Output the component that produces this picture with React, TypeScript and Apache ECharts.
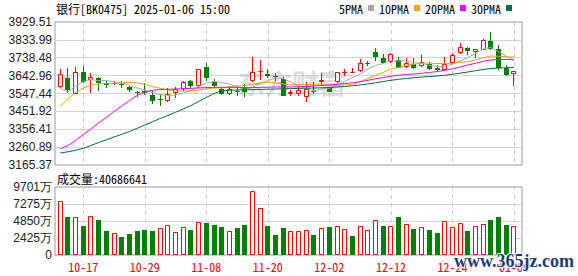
import React, { useEffect, useRef } from 'react';
import * as echarts from 'echarts';

const dates = ['10-14', '10-15', '10-16', '10-17', '10-18', '10-21', '10-22', '10-23', '10-24', '10-25', '10-28', '10-29', '10-30', '10-31', '11-01', '11-04', '11-05', '11-06', '11-07', '11-08', '11-11', '11-12', '11-13', '11-14', '11-15', '11-18', '11-19', '11-20', '11-21', '11-22', '11-25', '11-26', '11-27', '11-28', '11-29', '12-02', '12-03', '12-04', '12-05', '12-06', '12-09', '12-10', '12-11', '12-12', '12-13', '12-16', '12-17', '12-18', '12-19', '12-20', '12-23', '12-24', '12-25', '12-26', '12-27', '12-30', '12-31', '01-02', '01-03', '01-06'];
const labelIdx = [3, 11, 19, 27, 35, 43, 51, 59];

const opens = [3580.57, 3631.87, 3544.77, 3660.73, 3619.58, 3628.67, 3600.88, 3600.88, 3598.21, 3583.78, 3557.06, 3558.13, 3539.43, 3515.38, 3508.97, 3548.51, 3568.82, 3615.84, 3584.85, 3690.65, 3610.50, 3569.89, 3543.17, 3560.80, 3575.23, 3614.24, 3659.66, 3651.64, 3642.56, 3623.32, 3544.77, 3543.17, 3528.74, 3558.13, 3608.89, 3575.23, 3610.50, 3662.33, 3661.26, 3669.28, 3710.42, 3770.81, 3735.54, 3717.37, 3726.45, 3687.45, 3703.48, 3696.00, 3703.48, 3682.10, 3673.02, 3712.03, 3762.26, 3788.97, 3770.81, 3779.89, 3827.98, 3785.23, 3685.31, 3650.04];
const closes = [3651.64, 3566.15, 3663.93, 3607.29, 3635.61, 3601.95, 3592.86, 3605.15, 3592.86, 3566.15, 3551.72, 3550.12, 3507.37, 3512.71, 3544.77, 3569.89, 3610.50, 3587.52, 3676.76, 3627.60, 3587.52, 3544.77, 3569.89, 3563.47, 3553.86, 3663.93, 3667.67, 3642.56, 3637.22, 3534.08, 3553.86, 3566.15, 3568.82, 3559.73, 3619.58, 3557.06, 3663.93, 3665.00, 3663.40, 3708.82, 3713.09, 3744.09, 3712.03, 3756.91, 3685.31, 3712.03, 3685.31, 3714.16, 3678.36, 3673.02, 3703.48, 3753.17, 3794.32, 3774.55, 3785.23, 3833.33, 3785.23, 3682.10, 3646.30, 3669.28];
const lows = [3579.50, 3551.72, 3543.50, 3601.95, 3548.51, 3562.41, 3576.83, 3592.86, 3576.83, 3555.46, 3528.74, 3539.43, 3491.34, 3480.65, 3503.63, 3523.40, 3560.80, 3576.83, 3578.44, 3614.24, 3575.23, 3539.43, 3539.43, 3534.08, 3528.74, 3610.50, 3616.91, 3628.67, 3614.24, 3533.00, 3535.69, 3534.08, 3502.02, 3547.44, 3592.86, 3555.46, 3603.55, 3640.96, 3655.38, 3663.93, 3696.00, 3721.11, 3708.82, 3708.82, 3684.00, 3685.31, 3676.76, 3690.65, 3673.02, 3667.67, 3672.00, 3708.82, 3758.52, 3753.17, 3738.74, 3779.00, 3779.89, 3673.02, 3642.56, 3589.12];
const highs = [3676.76, 3682.10, 3690.65, 3694.39, 3656.99, 3637.22, 3615.84, 3614.24, 3614.24, 3590.19, 3563.47, 3600.88, 3560.80, 3544.77, 3576.83, 3583.78, 3614.24, 3622.25, 3678.36, 3708.82, 3623.32, 3583.78, 3587.52, 3587.52, 3598.21, 3744.09, 3726.45, 3676.76, 3655.38, 3637.22, 3566.15, 3582.18, 3608.89, 3608.89, 3656.99, 3582.18, 3665.00, 3676.76, 3682.10, 3730.19, 3721.11, 3792.18, 3756.91, 3762.26, 3744.09, 3735.54, 3735.54, 3753.17, 3717.37, 3699.74, 3744.09, 3763.86, 3815.69, 3795.92, 3786.00, 3838.67, 3874.47, 3806.61, 3699.74, 3670.00];

// volume in 万 (10k shares)
const volumes = [7704, 5468, 5373, 4137, 5564, 4993, 3424, 3091, 2615, 2996, 3424, 3567, 3424, 3852, 4232, 3281, 3995, 3567, 4660, 4565, 4280, 3995, 3376, 3852, 4280, 9130, 6705, 4137, 2853, 3852, 3376, 3376, 3519, 2853, 3852, 3995, 4090, 3662, 2711, 4090, 3567, 4946, 4137, 4137, 5421, 4422, 3709, 3995, 3567, 3139, 4850, 3995, 4565, 3424, 4137, 4422, 4993, 5421, 4280, 4068.66];
const lastVolume = '40686641';

const ma5 = [3576.83, 3555.46, 3587.52, 3611.57, 3622.25, 3615.84, 3617.98, 3608.89, 3603.55, 3590.19, 3576.83, 3566.15, 3552.79, 3542.10, 3536.76, 3539.43, 3550.12, 3563.47, 3584.85, 3603.55, 3611.57, 3606.22, 3598.21, 3582.18, 3568.82, 3579.50, 3600.88, 3616.91, 3630.27, 3627.60, 3608.89, 3587.52, 3574.16, 3560.80, 3571.49, 3575.23, 3592.86, 3611.57, 3632.94, 3651.64, 3678.36, 3697.06, 3707.75, 3723.78, 3721.11, 3721.11, 3710.42, 3710.42, 3697.06, 3692.79, 3691.72, 3705.08, 3721.11, 3739.81, 3761.19, 3785.23, 3793.25, 3771.87, 3746.22, 3723.25];
const ma10 = [3477.98, 3518.05, 3552.79, 3576.83, 3591.26, 3598.21, 3600.88, 3601.95, 3603.55, 3607.29, 3603.55, 3596.60, 3584.85, 3575.23, 3566.15, 3561.87, 3560.80, 3560.80, 3566.15, 3571.49, 3576.83, 3576.83, 3582.18, 3587.52, 3590.19, 3596.60, 3602.48, 3607.29, 3605.69, 3598.21, 3592.86, 3593.93, 3595.00, 3595.00, 3598.21, 3591.26, 3591.26, 3592.86, 3595.54, 3611.57, 3627.60, 3644.70, 3659.66, 3678.36, 3686.38, 3699.74, 3704.01, 3708.82, 3710.42, 3707.75, 3706.68, 3707.75, 3714.70, 3717.37, 3726.45, 3738.21, 3747.83, 3746.22, 3743.55, 3742.48];
const ma20 = [3250.87, 3269.58, 3296.29, 3328.36, 3357.75, 3389.81, 3419.20, 3451.26, 3480.65, 3510.04, 3536.76, 3555.46, 3564.54, 3568.82, 3569.89, 3571.49, 3573.09, 3575.23, 3576.83, 3578.97, 3580.04, 3580.57, 3580.57, 3580.04, 3578.97, 3578.97, 3580.04, 3581.11, 3582.18, 3582.18, 3582.18, 3583.25, 3584.85, 3587.52, 3590.19, 3592.86, 3596.60, 3600.88, 3604.62, 3609.96, 3617.98, 3625.99, 3632.94, 3639.89, 3645.23, 3648.97, 3651.64, 3655.38, 3659.66, 3665.00, 3671.41, 3679.43, 3689.05, 3699.74, 3708.82, 3719.51, 3726.45, 3729.13, 3729.13, 3728.06];
const ma30 = [3229.50, 3235.91, 3243.93, 3254.61, 3269.58, 3285.61, 3300.03, 3315.00, 3329.42, 3344.39, 3361.49, 3379.12, 3396.22, 3413.85, 3429.88, 3446.98, 3464.62, 3483.32, 3504.69, 3526.07, 3547.44, 3560.80, 3565.07, 3566.15, 3567.22, 3568.28, 3569.35, 3570.42, 3571.49, 3572.56, 3573.63, 3574.70, 3575.77, 3576.83, 3577.90, 3579.50, 3582.18, 3584.85, 3588.59, 3592.86, 3598.21, 3604.62, 3611.57, 3617.98, 3623.32, 3627.60, 3631.34, 3635.61, 3638.28, 3640.96, 3644.70, 3650.04, 3655.92, 3662.33, 3669.28, 3675.69, 3681.03, 3683.71, 3684.77, 3687.45];

const priceTicks = [3165.37, 3260.89, 3356.41, 3451.92, 3547.44, 3642.96, 3738.48, 3833.99, 3929.51];
const volTicks = [0, 2425, 4850, 7275, 9701];

const maNames = ['5PMA', '10PMA', '20PMA', '30PMA'];
const maSeries = [ma5, ma10, ma20, ma30];
const maColors = ['#a8a8a8', '#f2a100', '#ff00ff', '#00703a'];

const RED = '#ff0000';
const GREEN = '#008000';
const MONO = "'Noto Sans Mono CJK SC', 'Liberation Mono', monospace";
const SANS = "'Liberation Sans', Arial, sans-serif";
const X_MIN = -0.68;
const X_MAX = 60.05;

export default function App() {
  const ref = useRef<HTMLDivElement>(null);
  useEffect(() => {
    if (!ref.current) return;
    const chart = echarts.init(ref.current, null, { renderer: 'svg' });

    const candleData = dates.map((_, i) => [i, opens[i], closes[i], lows[i], highs[i]]);
    const volData = volumes.map((v, i) => {
      const up = i === 0 ? closes[i] >= opens[i] : closes[i] >= closes[i - 1];
      return [i, v, up ? 1 : 0];
    });

    const xCommon = {
      type: 'value',
      min: X_MIN,
      max: X_MAX,
      axisLine: { show: false },
      axisTick: { show: false, customValues: labelIdx },
      splitLine: { show: true, lineStyle: { color: '#cccccc', type: [4, 4], width: 1 } },
    };

    const option: any = {
      animation: false,
      backgroundColor: '#ffffff',
      grid: [
        { left: 55, top: 22, width: 467, height: 143, show: true, borderColor: '#9a9a9a', borderWidth: 1, backgroundColor: 'transparent' },
        { left: 55, top: 187, width: 467, height: 68, show: true, borderColor: '#9a9a9a', borderWidth: 1, backgroundColor: 'transparent' },
      ],
      legend: {
        data: maNames,
        left: 339,
        top: 2,
        padding: 0,
        align: 'right',
        icon: 'rect',
        itemWidth: 6,
        itemHeight: 6,
        itemGap: 5,
        selectedMode: false,
        textStyle: { fontFamily: MONO, fontSize: 12, color: '#000' },
      },
      xAxis: [
        { ...xCommon, gridIndex: 0, axisLabel: { show: false } },
        {
          ...xCommon,
          gridIndex: 1,
          axisLabel: {
            show: true,
            customValues: labelIdx,
            formatter: (v: number) => dates[Math.round(v)] ?? '',
            color: RED,
            fontFamily: MONO,
            fontSize: 12,
            margin: 5,
          },
        },
      ],
      yAxis: [
        {
          type: 'value',
          gridIndex: 0,
          min: priceTicks[0],
          max: priceTicks[priceTicks.length - 1],
          axisLine: { show: false },
          axisTick: { show: false, customValues: priceTicks.slice(1, -1) },
          axisLabel: {
            customValues: priceTicks,
            formatter: (v: number) => v.toFixed(2),
            color: '#222',
            fontFamily: SANS,
            fontSize: 12,
            margin: 3,
          },
          splitLine: { show: true, lineStyle: { color: '#d4d4d4', width: 1 } },
        },
        {
          type: 'value',
          gridIndex: 1,
          min: volTicks[0],
          max: volTicks[volTicks.length - 1],
          axisLine: { show: false },
          axisTick: { show: false, customValues: volTicks.slice(1, -1) },
          axisLabel: {
            customValues: volTicks,
            formatter: (v: number) => (v === 0 ? '0' : `${v}万`),
            color: '#222',
            fontFamily: SANS,
            fontSize: 12,
            margin: 3,
          },
          splitLine: { show: true, lineStyle: { color: '#d4d4d4', width: 1 } },
        },
      ],
      graphic: [
        {
          type: 'text', x: 238, y: 82, z: 1, silent: true,
          style: { text: '东方财富', fontSize: 27, fontWeight: 'bold', fontFamily: "'Noto Sans CJK SC', sans-serif", fill: 'rgba(175,175,192,0.42)', verticalAlign: 'middle' },
        },
        {
          type: 'text', x: 56, y: 8,
          style: { text: '银行[BK0475] 2025-01-06 15:00', fontSize: 12, fontFamily: MONO, fill: '#000', verticalAlign: 'middle' },
        },
        {
          type: 'text', x: 57, y: 178,
          style: { text: `成交量:${lastVolume}`, fontSize: 12, fontFamily: MONO, fill: '#000', verticalAlign: 'middle' },
        },
        {
          type: 'text', x: 454, y: 261, z: 100,
          style: { text: 'www.365jz.com', fontSize: 18, fontWeight: 'bold', fontFamily: "'Liberation Serif', serif", fill: '#1d3c78', stroke: '#ffffff', lineWidth: 2, verticalAlign: 'middle' },
        },
      ],
      series: [
        {
          type: 'custom',
          name: 'K',
          xAxisIndex: 0,
          yAxisIndex: 0,
          z: 5,
          encode: { x: 0, y: [1, 2, 3, 4] },
          data: candleData,
          renderItem: (_params: any, api: any) => {
            const i = api.value(0);
            const o = api.value(1);
            const c = api.value(2);
            const l = api.value(3);
            const h = api.value(4);
            const up = c >= o;
            const pO = api.coord([i, o]);
            const pC = api.coord([i, c]);
            const pL = api.coord([i, l]);
            const pH = api.coord([i, h]);
            const bw = 5;
            const left = Math.round(pO[0] - bw / 2);
            const cx = left + 2.5;
            const top = Math.round(Math.min(pO[1], pC[1]));
            const bot = Math.round(Math.max(pO[1], pC[1]));
            const color = up ? RED : GREEN;
            const children: any[] = [
              { type: 'line', shape: { x1: cx, y1: Math.round(pH[1]), x2: cx, y2: Math.round(pL[1]) }, style: { stroke: color, lineWidth: 1 } },
            ];
            if (up) {
              children.push({ type: 'rect', shape: { x: left + 0.5, y: top + 0.5, width: bw - 1, height: Math.max(bot - top - 1, 0) }, style: { fill: '#ffffff', stroke: color, lineWidth: 1 } });
            } else {
              children.push({ type: 'rect', shape: { x: left, y: top, width: bw, height: Math.max(bot - top, 1) }, style: { fill: color } });
            }
            return { type: 'group', children };
          },
        },
        ...maNames.map((name, k) => ({
          type: 'line',
          name,
          xAxisIndex: 0,
          yAxisIndex: 0,
          z: 6,
          data: maSeries[k].map((v, i) => [i, v]),
          showSymbol: false,
          symbol: 'none',
          smooth: false,
          lineStyle: { width: 1, color: maColors[k] },
          itemStyle: { color: maColors[k] },
        })),
        {
          type: 'custom',
          name: 'VOL',
          xAxisIndex: 1,
          yAxisIndex: 1,
          z: 5,
          encode: { x: 0, y: 1 },
          data: volData,
          renderItem: (_params: any, api: any) => {
            const i = api.value(0);
            const v = api.value(1);
            const up = api.value(2) === 1;
            const p = api.coord([i, v]);
            const p0 = api.coord([i, 0]);
            const left = Math.round(p[0] - 2.5);
            const top = Math.round(p[1]);
            const bot = Math.round(p0[1]);
            if (up) {
              return { type: 'rect', shape: { x: left + 0.5, y: top + 0.5, width: 4, height: Math.max(bot - top - 1, 0) }, style: { fill: '#ffffff', stroke: RED, lineWidth: 1 } };
            }
            return { type: 'rect', shape: { x: left, y: top, width: 5, height: bot - top }, style: { fill: GREEN } };
          },
        },
      ],
    };

    chart.setOption(option);
    return () => chart.dispose();
  }, []);

  return (
    <div
      ref={ref}
      style={{ position: 'fixed', left: 0, top: 0, width: 578, height: 276, background: '#fff' }}
    />
  );
}
